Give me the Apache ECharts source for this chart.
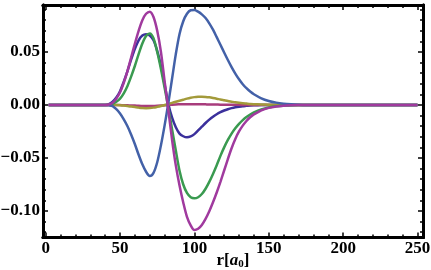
<!DOCTYPE html>
<html><head><meta charset="utf-8">
<script src="https://cdn.jsdelivr.net/npm/echarts@6/dist/echarts.min.js"></script>
<style>html,body{margin:0;padding:0;background:#fff}#c{width:431px;height:270px}</style>
</head><body><div id="c"></div>
<script>
// x positions: 2..35 coarse, 40..140 step 2.5, 145..180 step 5, 190..250 step 10
const xs = [2, 10, 20, 30, 35,
  40, 42.5, 45, 47.5, 50, 52.5, 55, 57.5, 60, 62.5, 65, 67.5, 70, 72.5, 75, 77.5, 80, 82.5, 85, 87.5,
  90, 92.5, 95, 97.5, 100, 102.5, 105, 107.5, 110, 112.5, 115, 117.5, 120, 122.5, 125, 127.5, 130, 132.5, 135, 137.5, 140,
  145, 150, 155, 160, 165, 170, 175, 180,
  190, 200, 210, 220, 230, 240, 250];
const indigo = [0, 0, 0, 0, 0,
  0, 0.0008, 0.003, 0.007, 0.013, 0.022, 0.032, 0.043, 0.053, 0.061, 0.0655, 0.0667, 0.0655, 0.061, 0.051, 0.037, 0.019, 0.001, -0.012, -0.021,
  -0.027, -0.0295, -0.0305, -0.0297, -0.0275, -0.024, -0.0205, -0.017, -0.0138, -0.011, -0.0087, -0.0068, -0.0052, -0.004, -0.003, -0.0022, -0.0016, -0.0011, -0.0008, -0.0005, -0.0003,
  -0.0001, 0, 0, 0, 0, 0, 0, 0,
  0, 0, 0, 0, 0, 0, 0];
const pink = [0, 0, 0, 0, 0,
  0, 0, 0, 0, -0.0001, -0.0002, -0.0003, -0.0005, -0.0006, -0.0008, -0.0009, -0.001, -0.001, -0.0009, -0.0008, -0.0006, -0.0003, 0, 0.0003, 0.0005,
  0.0006, 0.0007, 0.0008, 0.0008, 0.0008, 0.0008, 0.0007, 0.0006, 0.0005, 0.0005, 0.0004, 0.0003, 0.0003, 0.0002, 0.0002, 0.0001, 0.0001, 0, 0, 0, 0,
  0, 0, 0, 0, 0, 0, 0, 0,
  0, 0, 0, 0, 0, 0, 0];
const olive = [0, 0, 0, 0, 0,
  0, 0, 0, -0.0001, -0.0003, -0.0006, -0.001, -0.0015, -0.002, -0.0025, -0.0029, -0.003, -0.0029, -0.0025, -0.0018, -0.001, 0, 0.001, 0.002, 0.003,
  0.004, 0.005, 0.006, 0.0068, 0.0074, 0.0077, 0.0078, 0.0076, 0.0072, 0.0066, 0.0059, 0.0051, 0.0044, 0.0037, 0.0031, 0.0025, 0.002, 0.0016, 0.0013, 0.001, 0.0008,
  0.0005, 0.0003, 0.0002, 0.0001, 0, 0, 0, 0,
  0, 0, 0, 0, 0, 0, 0];
const green = [0, 0, 0, 0, 0,
  0, 0.0003, 0.001, 0.003, 0.006, 0.011, 0.018, 0.027, 0.037, 0.048, 0.058, 0.065, 0.0675, 0.063, 0.050, 0.034, 0.016, -0.003, -0.023, -0.043,
  -0.062, -0.075, -0.083, -0.087, -0.088, -0.087, -0.084, -0.079, -0.0725, -0.065, -0.0568, -0.048, -0.040, -0.033, -0.027, -0.022, -0.0178, -0.0143, -0.0114, -0.009, -0.0071,
  -0.0043, -0.0024, -0.0012, -0.0006, -0.0002, 0, 0, 0,
  0, 0, 0, 0, 0, 0, 0];
const blue = [0, 0, 0, 0, 0,
  0, -0.0003, -0.001, -0.004, -0.008, -0.0135, -0.020, -0.028, -0.037, -0.047, -0.056, -0.063, -0.067, -0.064, -0.054, -0.038, -0.019, 0.002, 0.025, 0.048,
  0.067, 0.079, 0.086, 0.0893, 0.0896, 0.088, 0.0855, 0.082, 0.077, 0.071, 0.064, 0.0568, 0.0495, 0.0424, 0.0357, 0.0296, 0.0242, 0.0196, 0.0158, 0.0127, 0.0101,
  0.0063, 0.0038, 0.0022, 0.0012, 0.0006, 0.0002, 0, 0,
  0, 0, 0, 0, 0, 0, 0];
const magenta = [0, 0, 0, 0, 0,
  0, 0.0005, 0.002, 0.006, 0.012, 0.021, 0.032, 0.045, 0.058, 0.070, 0.080, 0.086, 0.088, 0.083, 0.070, 0.050, 0.022, -0.005, -0.033, -0.057,
  -0.076, -0.092, -0.1055, -0.1135, -0.118, -0.1168, -0.1132, -0.1075, -0.1003, -0.0918, -0.0826, -0.0725, -0.0618, -0.051, -0.0408, -0.032, -0.025, -0.0195, -0.0151, -0.0116, -0.0089,
  -0.005, -0.0027, -0.0014, -0.0007, -0.0003, -0.0001, 0, 0,
  0, 0, 0, 0, 0, 0, 0];
const xTicks = [0, 50, 100, 150, 200, 250];
const xMinor = [10, 20, 30, 40, 60, 70, 80, 90, 110, 120, 130, 140, 160, 170, 180, 190, 210, 220, 230, 240];
const yTicks = [-0.10, -0.05, 0.00, 0.05];
const yMinor = [-0.12, -0.11, -0.09, -0.08, -0.07, -0.06, -0.04, -0.03, -0.02, -0.01, 0.01, 0.02, 0.03, 0.04, 0.06, 0.07, 0.08, 0.09];

const names = ['indigo', 'pink', 'olive', 'green', 'blue', 'magenta'];
const seriesVals = [indigo, pink, olive, green, blue, magenta];
const colors = ['#3b309c', '#a83c7c', '#a39a3a', '#3a9a50', '#4361a8', '#a03a9e'];

const XMIN = -1.8, XMAX = 253.7, YMIN = -0.125, YMAX = 0.0943;
const font = '"Liberation Serif", "DejaVu Serif", serif';
const labStyle = {fontFamily: font, fontWeight: 'bold', fontSize: 17, color: '#000'};
const fmtY = v => (v < 0 ? '\u2212' : '') + Math.abs(v).toFixed(2);

function xAx(pos, values, len, labels) {
  return {
    type: 'value', min: XMIN, max: XMAX, position: pos,
    axisLine: {show: true, onZero: false, lineStyle: {color: '#000', width: 3}},
    axisTick: {show: true, inside: true, length: len, customValues: values, lineStyle: {color: '#000', width: 1.5}},
    axisLabel: labels ? Object.assign({show: true, margin: 3, customValues: values}, labStyle) : {show: false},
    splitLine: {show: false}
  };
}
function yAx(pos, values, len, labels) {
  return {
    type: 'value', min: YMIN, max: YMAX, position: pos,
    axisLine: {show: true, onZero: false, lineStyle: {color: '#000', width: 3}},
    axisTick: {show: true, inside: true, length: len, customValues: values, lineStyle: {color: '#000', width: 1.5}},
    axisLabel: labels ? Object.assign({show: true, margin: 3, customValues: values, formatter: fmtY}, labStyle) : {show: false},
    splitLine: {show: false}
  };
}

const xAxes = [xAx('bottom', xTicks, 5, true), xAx('bottom', xMinor, 3, false), xAx('top', xTicks, 5, false), xAx('top', xMinor, 3, false)];
xAxes[0].name = '{b|r[}{i|a}{s|0}{b|]}';
xAxes[0].nameLocation = 'middle';
xAxes[0].nameGap = 14;
xAxes[0].nameMoveOverlap = false;
xAxes[0].nameTextStyle = {
  rich: {
    b: {fontFamily: font, fontWeight: 'bold', fontSize: 17, color: '#000'},
    i: {fontFamily: font, fontWeight: 'bold', fontStyle: 'italic', fontSize: 17, color: '#000'},
    s: {fontFamily: font, fontWeight: 'bold', fontSize: 11, color: '#000', padding: [7, 0, 0, 0]}
  }
};
const yAxes = [yAx('left', yTicks, 5, true), yAx('left', yMinor, 3, false), yAx('right', yTicks, 5, false), yAx('right', yMinor, 3, false)];

const chart = echarts.init(document.getElementById('c'), null, {renderer: 'canvas'});
chart.setOption({
  animation: false,
  backgroundColor: '#fff',
  grid: {left: 43, right: 8, top: 5, bottom: 32.5, outerBoundsMode: 'none', containLabel: false},
  xAxis: xAxes,
  yAxis: yAxes,
  series: seriesVals.map((vals, k) => ({
    name: names[k], type: 'line', xAxisIndex: 0, yAxisIndex: 0,
    data: xs.map((x, i) => [x, vals[i]]),
    showSymbol: false, smooth: 0.3,
    lineStyle: {color: colors[k], width: 2.5},
    z: 2 + k
  }))
});
</script></body></html>
